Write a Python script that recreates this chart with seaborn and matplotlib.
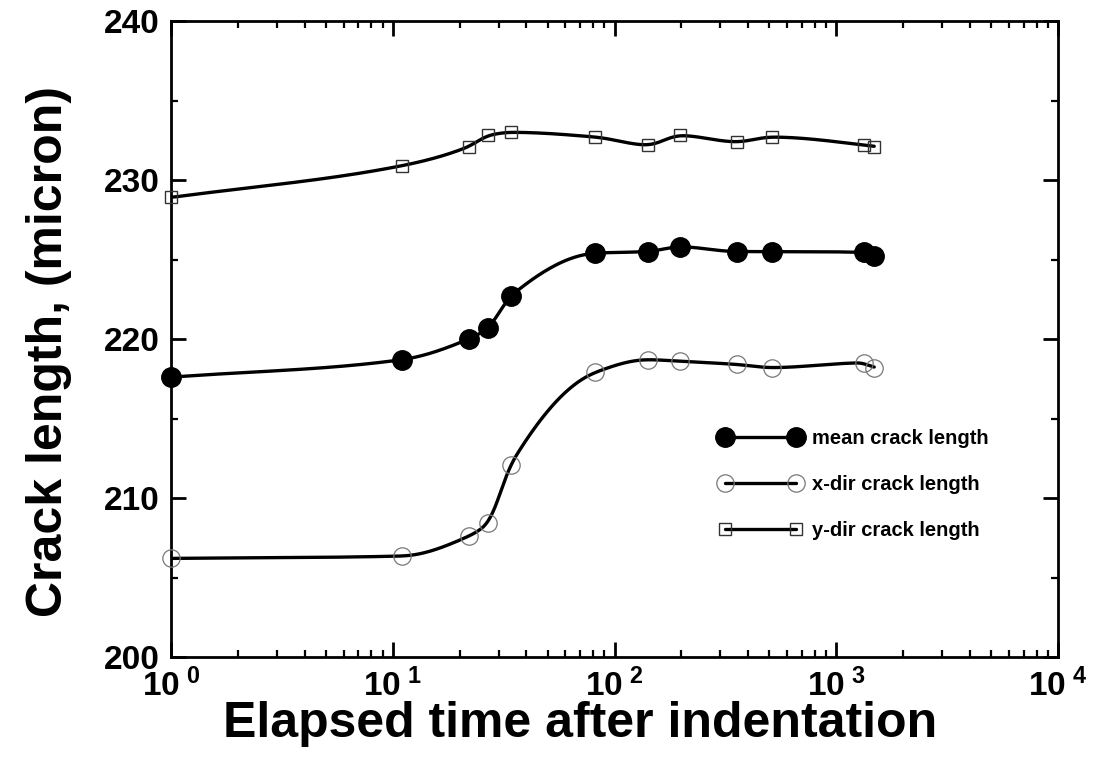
import numpy as np
import pandas as pd
import matplotlib
matplotlib.use("Agg")
import matplotlib.pyplot as plt
import seaborn as sns
from matplotlib.lines import Line2D
from matplotlib.ticker import FixedLocator, FixedFormatter, LogLocator, NullFormatter, MultipleLocator

# ---- data ----
time_s = [1, 11, 22, 27, 34, 82, 141, 198, 355, 511, 1328, 1483]
mean_len = [217.6, 218.7, 220.0, 220.7, 222.7, 225.4, 225.5, 225.8, 225.5, 225.5, 225.45, 225.2]
xdir_len = [206.2, 206.35, 207.6, 208.45, 212.1, 217.9, 218.7, 218.6, 218.4, 218.2, 218.5, 218.15]
ydir_len = [228.9, 230.9, 232.1, 232.8, 233.0, 232.7, 232.2, 232.8, 232.4, 232.7, 232.2, 232.1]
series_names = ["mean crack length", "x-dir crack length", "y-dir crack length"]
x_tick_vals = [1, 10, 100, 1000, 10000]
x_tick_labels = [r"$\mathbf{10^{\ 0}}$", r"$\mathbf{10^{\ 1}}$", r"$\mathbf{10^{\ 2}}$",
                 r"$\mathbf{10^{\ 3}}$", r"$\mathbf{10^{\ 4}}$"]
y_tick_vals = [200, 210, 220, 230, 240]


def pchip(x, y, xn):
    x = np.asarray(x, float); y = np.asarray(y, float)
    h = np.diff(x); d = np.diff(y) / h
    n = len(x)
    m = np.zeros(n)
    for k in range(1, n - 1):
        if d[k - 1] * d[k] <= 0:
            m[k] = 0.0
        else:
            w1 = 2 * h[k] + h[k - 1]
            w2 = h[k] + 2 * h[k - 1]
            m[k] = (w1 + w2) / (w1 / d[k - 1] + w2 / d[k])
    m[0] = d[0]
    m[-1] = d[-1]
    idx = np.clip(np.searchsorted(x, xn) - 1, 0, n - 2)
    t = (xn - x[idx]) / h[idx]
    h00 = 2 * t**3 - 3 * t**2 + 1
    h10 = t**3 - 2 * t**2 + t
    h01 = -2 * t**3 + 3 * t**2
    h11 = t**3 - t**2
    return h00 * y[idx] + h10 * h[idx] * m[idx] + h01 * y[idx + 1] + h11 * h[idx] * m[idx + 1]


def smooth(v, w=9):
    k = np.ones(w) / w
    p = np.pad(v, (w // 2, w // 2), mode="edge")
    return np.convolve(p, k, mode="valid")


sns.set_style("ticks")
plt.rcParams["font.family"] = ["Liberation Sans", "DejaVu Sans"]
plt.rcParams["mathtext.fontset"] = "custom"
plt.rcParams["mathtext.rm"] = "Liberation Sans:bold"
plt.rcParams["mathtext.bf"] = "Liberation Sans:bold"
plt.rcParams["mathtext.it"] = "Liberation Sans:bold"
for key in ["text.color", "axes.labelcolor", "xtick.color", "ytick.color", "axes.edgecolor"]:
    plt.rcParams[key] = "black"

# long-form data
pts = pd.DataFrame({
    "time": time_s * 3,
    "length": mean_len + xdir_len + ydir_len,
    "series": [series_names[0]] * len(time_s) + [series_names[1]] * len(time_s) + [series_names[2]] * len(time_s),
})
lx = np.log10(time_s)
grid = np.linspace(lx[0], lx[-1], 600)
curves = []
for name, vals in zip(series_names, [mean_len, xdir_len, ydir_len]):
    yv = smooth(pchip(lx, vals, grid), 15)
    curves.append(pd.DataFrame({"time": 10 ** grid, "length": yv, "series": name}))
curves = pd.concat(curves, ignore_index=True)

fig = plt.figure(figsize=(10.95, 7.74), dpi=100)
ax = fig.add_axes([171 / 1095, 117 / 774, 887 / 1095, 636 / 774])

sns.lineplot(data=curves, x="time", y="length", units="series", estimator=None,
             color="black", linewidth=2.4, ax=ax, legend=False)

styles = {
    series_names[0]: dict(marker="o", markersize=14, markerfacecolor="black", markeredgecolor="black", markeredgewidth=1),
    series_names[1]: dict(marker="o", markersize=12.5, markerfacecolor="none", markeredgecolor="#777777", markeredgewidth=0.9),
    series_names[2]: dict(marker="s", markersize=9, markerfacecolor="none", markeredgecolor="#333333", markeredgewidth=1.0),
}
for name in series_names:
    sub = pts[pts["series"] == name]
    ax.plot(sub["time"], sub["length"], linestyle="none", clip_on=False, zorder=5, **styles[name])

ax.set_xscale("log")
ax.set_xlim(1, 10000)
ax.set_ylim(200, 240)
ax.xaxis.set_major_locator(FixedLocator(x_tick_vals))
ax.xaxis.set_major_formatter(FixedFormatter(x_tick_labels))
ax.xaxis.set_minor_locator(LogLocator(base=10, subs=np.arange(2, 10)))
ax.xaxis.set_minor_formatter(NullFormatter())
ax.yaxis.set_major_locator(FixedLocator(y_tick_vals))
ax.yaxis.set_minor_locator(MultipleLocator(5))

for s in ax.spines.values():
    s.set_linewidth(2.0)
    s.set_visible(True)
    s.set_color("black")
ax.tick_params(which="major", direction="in", length=11, width=2.0, top=True, right=True,
               labelsize=24, pad=8)
ax.tick_params(which="minor", direction="in", length=5, width=1.6, top=True, right=True)
for lab in ax.get_yticklabels():
    lab.set_fontweight("bold")

ax.set_xlabel("Elapsed time after indentation", fontsize=36, fontweight="bold")
ax.xaxis.set_label_coords(0.461, -0.069, transform=ax.transAxes)
ax.xaxis.label.set_verticalalignment("top")
ax.set_ylabel("Crack length, (micron)", fontsize=36, fontweight="bold")
ax.yaxis.set_label_coords(-0.112, 0.481, transform=ax.transAxes)

handles = [Line2D([0], [0], color="black", linewidth=2.4, **styles[n]) for n in series_names]
leg = ax.legend(handles, series_names, loc="upper left", bbox_to_anchor=(0.609, 0.371),
                numpoints=2, frameon=False, fontsize=14.5, handlelength=4.1, labelspacing=1.35,
                handletextpad=0.5, borderaxespad=0)
for t in leg.get_texts():
    t.set_fontweight("bold")
    t.set_color("black")

fig.savefig("out.png", dpi=100, facecolor="white")
